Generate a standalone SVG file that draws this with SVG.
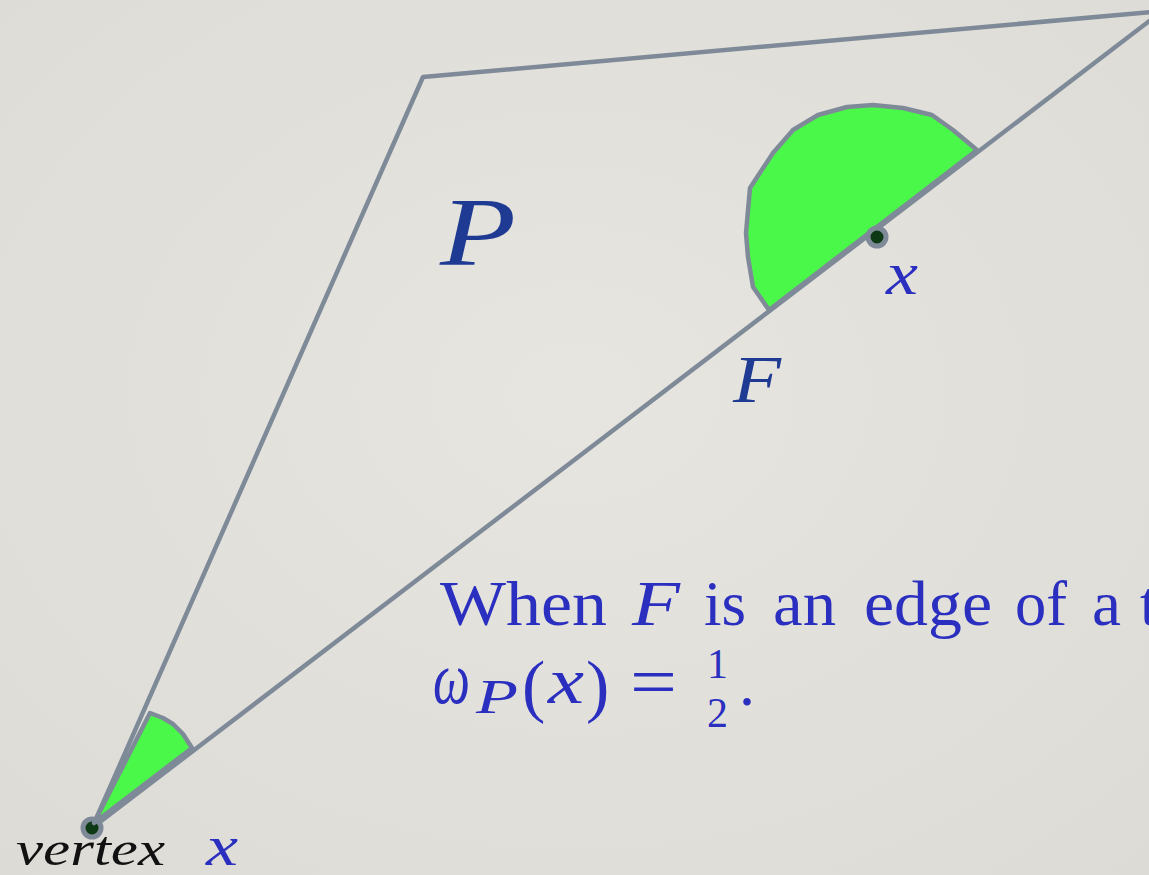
<svg xmlns="http://www.w3.org/2000/svg" width="1149" height="875" viewBox="0 0 1149 875">
<defs>
<style>
.edge{fill:none;stroke:#7f8a98;stroke-width:4.5;stroke-linecap:round;stroke-linejoin:round}
.region{fill:#4af84a;stroke:#7f8a98;stroke-width:4.5;stroke-linejoin:round}
.ring{fill:#0d3a14;stroke:#7f8a98;stroke-width:5}
.m{font-family:"Liberation Serif","Times New Roman",serif;font-style:italic}
.r{font-family:"Liberation Serif","Times New Roman",serif}
.blue{fill:#2b2fbf}
.dark{fill:#1f3a92}
</style>
<radialGradient id="bg" cx="50%" cy="45%" r="75%">
<stop offset="0" stop-color="#e7e5e0"/>
<stop offset="1" stop-color="#dddbd6"/>
</radialGradient>
</defs>
<rect width="1149" height="875" fill="url(#bg)"/>
<g id="connectors">
<polyline class="edge" points="92,828 423,77 1152,12"/>
<line class="edge" x1="92" y1="828" x2="1152" y2="19"/>
</g>
<g id="vertex-node">
<circle class="ring" cx="92" cy="828" r="9"/>
<path class="region" d="M94,823 L150,713 L163,718 L173,724 L183,734 L192,748 Z"/>
<text class="m" x="16" y="865" font-size="48" textLength="149" lengthAdjust="spacingAndGlyphs" fill="#111">vertex</text>
<text class="m blue" x="206" y="865" font-size="56" textLength="32" lengthAdjust="spacingAndGlyphs">x</text>
</g>
<g id="face-node">
<path class="region" d="M769,310 L753,287 L748,257 L746,233 L750,188 L773,153 L793,130 L818,115 L847,107 L873,105 L903,108 L932,115 L953,130 L977,150 Z"/>
<circle class="ring" cx="877" cy="237" r="9"/>
<text class="m blue" x="886" y="294" font-size="62" textLength="32" lengthAdjust="spacingAndGlyphs">x</text>
</g>
<g id="label-P">
<text class="m dark" x="440" y="265" font-size="98" textLength="76" lengthAdjust="spacingAndGlyphs">P</text>
</g>
<g id="label-F">
<text class="m dark" x="733" y="402" font-size="68" textLength="48" lengthAdjust="spacingAndGlyphs">F</text>
</g>
<g id="caption" class="blue">
<text class="r" x="440" y="625" font-size="64" textLength="167" lengthAdjust="spacingAndGlyphs">When</text>
<text class="m" x="632" y="625" font-size="64" textLength="48" lengthAdjust="spacingAndGlyphs">F</text>
<text class="r" x="704" y="625" font-size="64" textLength="42" lengthAdjust="spacingAndGlyphs">is</text>
<text class="r" x="773" y="625" font-size="64" textLength="63" lengthAdjust="spacingAndGlyphs">an</text>
<text class="r" x="864" y="625" font-size="64" textLength="128" lengthAdjust="spacingAndGlyphs">edge</text>
<text class="r" x="1015" y="625" font-size="64" textLength="52" lengthAdjust="spacingAndGlyphs">of</text>
<text class="r" x="1092" y="625" font-size="64" textLength="29" lengthAdjust="spacingAndGlyphs">a</text>
<text class="r" x="1140" y="625" font-size="64">t</text>
<text class="m" x="433" y="703" font-size="74" textLength="37" lengthAdjust="spacingAndGlyphs">ω</text>
<text class="m" x="476" y="713" font-size="48" textLength="42" lengthAdjust="spacingAndGlyphs">P</text>
<text class="r" x="522" y="709" font-size="70">(</text>
<text class="m" x="548" y="703" font-size="66" textLength="36" lengthAdjust="spacingAndGlyphs">x</text>
<text class="r" x="586" y="709" font-size="70">)</text>
<text class="r" x="630" y="706" font-size="72" textLength="47" lengthAdjust="spacingAndGlyphs">=</text>
<text class="r" x="707" y="678" font-size="42">1</text>
<text class="r" x="707" y="727" font-size="42">2</text>
<text class="r" x="739" y="705" font-size="64">.</text>
</g>
</svg>
